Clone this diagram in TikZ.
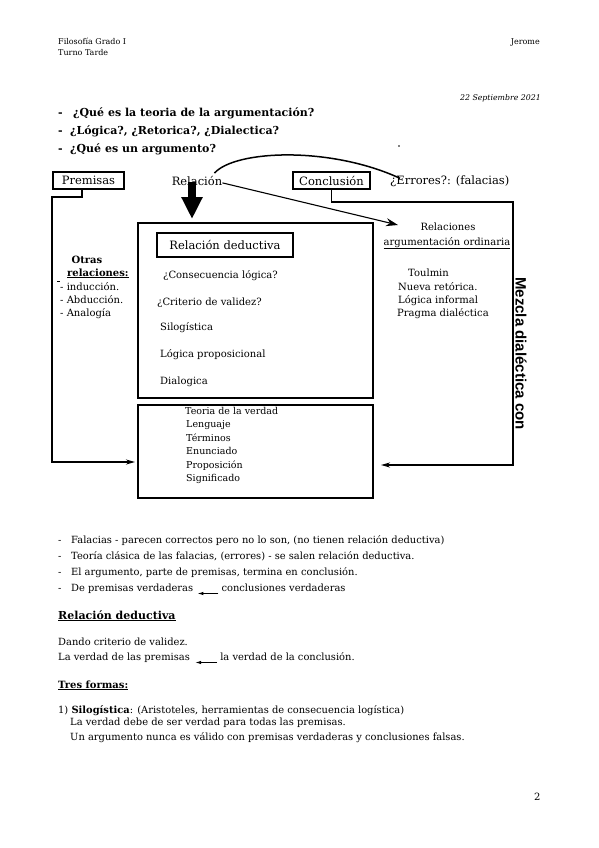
\documentclass[tikz,border=0pt]{standalone}
\usepackage{fontspec}
\setmainfont{DejaVu Serif}
\newfontfamily\sansf{Liberation Sans}
\usetikzlibrary{arrows.meta}
\begin{document}
\begin{tikzpicture}[x=1pt,y=-1pt,
  txt/.style={inner sep=0pt, anchor=base west, font=\fontsize{9.9}{11}\selectfont},
  dtxt/.style={txt, font=\fontsize{10}{12}\selectfont},
  ttxt/.style={txt, font=\fontsize{9.5}{11}\selectfont},
  qtxt/.style={txt, font=\fontsize{11}{13}\selectfont\bfseries},
  hdr/.style={txt, font=\fontsize{8}{9}\selectfont},
  lbl/.style={inner sep=0pt, font=\fontsize{11.5}{13}\selectfont},
  lblbox/.style={lbl, draw, line width=1.6pt, minimum height=17pt},
  frame/.style={draw, line width=1.6pt, inner sep=0pt, anchor=north west},
  conn/.style={line width=1.8pt, -{Stealth[length=9pt,width=5pt]}},
  thinarrow/.style={line width=1.1pt, -{Stealth[length=12pt,width=8pt]}},
  bigarrow/.style={line width=8pt, -{Triangle[length=22pt,width=20pt]}},
  inl/.style={line width=1pt, -{Latex[length=6pt,width=3.5pt]}}
]
\fill[white] (0,0) rectangle (599,848);
\useasboundingbox (0,0) rectangle (599,848);

% header
\node[hdr] (h1) at (58,45) {Filosofía Grado I};
\node[hdr] (h2) at (58,56) {Turno Tarde};
\node[hdr, anchor=base east] (h3) at (540,45) {Jerome};
\node[hdr, anchor=base east, font=\fontsize{7.8}{9}\selectfont\itshape] (date) at (541,101) {22 Septiembre 2021};

% questions
\node[qtxt] (qb1) at (58,117) {-};
\node[qtxt] (q1) at (73,117) {¿Qué es la teoria de la argumentación?};
\node[qtxt] (qb2) at (58,135) {-};
\node[qtxt] (q2) at (70,135) {¿Lógica?, ¿Retorica?, ¿Dialectica?};
\node[qtxt] (qb3) at (58,153) {-};
\node[qtxt] (q3) at (70,153) {¿Qué es un argumento?};
\fill (399,146) circle (0.8pt);

% top row
\node[lblbox, minimum width=71pt] (prem) at (88.5,180.5) {Premisas};
\node[lbl] (rel) at (197,181) {Relación};
\node[lblbox, minimum width=77pt] (conc) at (331.5,180.5) {Conclusión};
\node[lbl, anchor=west] (err) at (390,181) {¿Errores?: (falacias)};

% frames
\node[frame, minimum width=235pt, minimum height=175pt] (main) at (137,222) {};
\node[frame, minimum width=235pt, minimum height=93pt] (truth) at (137,404) {};
\node[lblbox, minimum width=136pt, minimum height=24pt] (rd) at (225,245) {Relación deductiva};

% main box text
\node[dtxt] (m1) at (163,278) {¿Consecuencia lógica?};
\node[dtxt] (m2) at (157,305) {¿Criterio de validez?};
\node[dtxt] (m3) at (160,330) {Silogística};
\node[dtxt] (m4) at (160,357) {Lógica proposicional};
\node[dtxt] (m5) at (160,384) {Dialogica};

% truth box text
\node[ttxt] (t1) at (185,414) {Teoria de la verdad};
\node[ttxt] (t2) at (186,427.5) {Lenguaje};
\node[ttxt] (t3) at (186,441) {Términos};
\node[ttxt] (t4) at (186,454.5) {Enunciado};
\node[ttxt] (t5) at (186,468) {Proposición};
\node[ttxt] (t6) at (186,481.5) {Significado};

% left
\node[dtxt, anchor=base, font=\fontsize{10}{12}\selectfont\bfseries] (o1) at (87,263) {Otras};
\node[dtxt, font=\fontsize{10}{12}\selectfont\bfseries] (o2) at (67,276) {\underline{relaciones:}};
\draw[line width=0.6pt] (57,281) -- (60,281);
\node[dtxt] (o3) at (60,290) {- inducción.};
\node[dtxt] (o4) at (60,303) {- Abducción.};
\node[dtxt] (o5) at (60,316) {- Analogía};

% right
\node[dtxt, anchor=base] (r1) at (448,230) {Relaciones};
\node[dtxt, anchor=base] (r2) at (447,245) {\underline{argumentación ordinaria}};
\node[dtxt] (r3) at (408,276) {Toulmin};
\node[dtxt] (r4) at (398,290) {Nueva retórica.};
\node[dtxt] (r5) at (398,303) {Lógica informal};
\node[dtxt] (r6) at (397,316) {Pragma dialéctica};
\node[inner sep=0pt, rotate=-90, font=\sansf\bfseries\fontsize{15}{17}\selectfont] (mz) at (521,353.5) {Mezcla dialéctica con};

% connectors
\coordinate (pl1) at (52,197);
\coordinate (pl2) at (52,462);
\coordinate (pend) at (135,462);
\draw[conn] ([xshift=-6.5pt]prem.south) |- (pl1) -- (pl2) -- (pend);
\coordinate (cr1) at (513,202);
\coordinate (cr2) at (513,465);
\coordinate (cend) at (381,465);
\draw[conn] (conc.south) |- (cr1) -- (cr2) -- (cend);
\coordinate (relarrow) at (398,225);
\draw[thinarrow] ([yshift=3pt]rel.south east) -- (relarrow);
\draw[line width=1.5pt] ([xshift=-8pt,yshift=3pt]rel.north east) .. controls (235,150) and (330,146) .. ([xshift=10pt,yshift=-3pt]err.north west);
\draw[bigarrow] ([xshift=-5pt,yshift=4pt]rel.south) -- ([xshift=-5pt,yshift=3pt]rel.south |- main.north);

% bottom list
\node[txt] (b1d) at (58,543) {-};
\node[txt] (b1) at (71,543) {Falacias - parecen correctos pero no lo son, (no tienen relación deductiva)};
\node[txt] (b2d) at (58,559) {-};
\node[txt] (b2) at (71,559) {Teoría clásica de las falacias, (errores) - se salen relación deductiva.};
\node[txt] (b3d) at (58,575) {-};
\node[txt] (b3) at (71,575) {El argumento, parte de premisas, termina en conclusión.};
\node[txt] (b4d) at (58,591) {-};
\node[txt] (b4a) at (71,591) {De premisas verdaderas};
\node[txt] (b4b) at ([xshift=28pt]b4a.base east) {conclusiones verdaderas};
\draw[inl] ([xshift=-3pt,yshift=-2.5pt]b4b.base west) -- ([xshift=4pt,yshift=-2.5pt]b4a.base east);

\node[txt, font=\fontsize{11}{13}\selectfont\bfseries] (hrd) at (58,619) {\underline{Relación deductiva}};
\node[txt] (l1) at (58,645) {Dando criterio de validez.};
\node[txt] (l2a) at (58,660) {La verdad de las premisas};
\node[txt] (l2b) at ([xshift=30pt]l2a.base east) {la verdad de la conclusión.};
\draw[inl] ([xshift=-3pt,yshift=-2.5pt]l2b.base west) -- ([xshift=5pt,yshift=-2.5pt]l2a.base east);

\node[txt, font=\fontsize{10}{12}\selectfont\bfseries] (htf) at (58,688) {\underline{Tres formas:}};
\node[txt] (s1) at (58,713) {1) \textbf{Silogística}: (Aristoteles, herramientas de consecuencia logística)};
\node[txt] (s2) at (70,725) {La verdad debe de ser verdad para todas las premisas.};
\node[txt] (s3) at (70,740) {Un argumento nunca es válido con premisas verdaderas y conclusiones falsas.};

\node[txt, font=\fontsize{10}{12}\selectfont] (pg) at (534,800) {2};
\end{tikzpicture}
\end{document}
